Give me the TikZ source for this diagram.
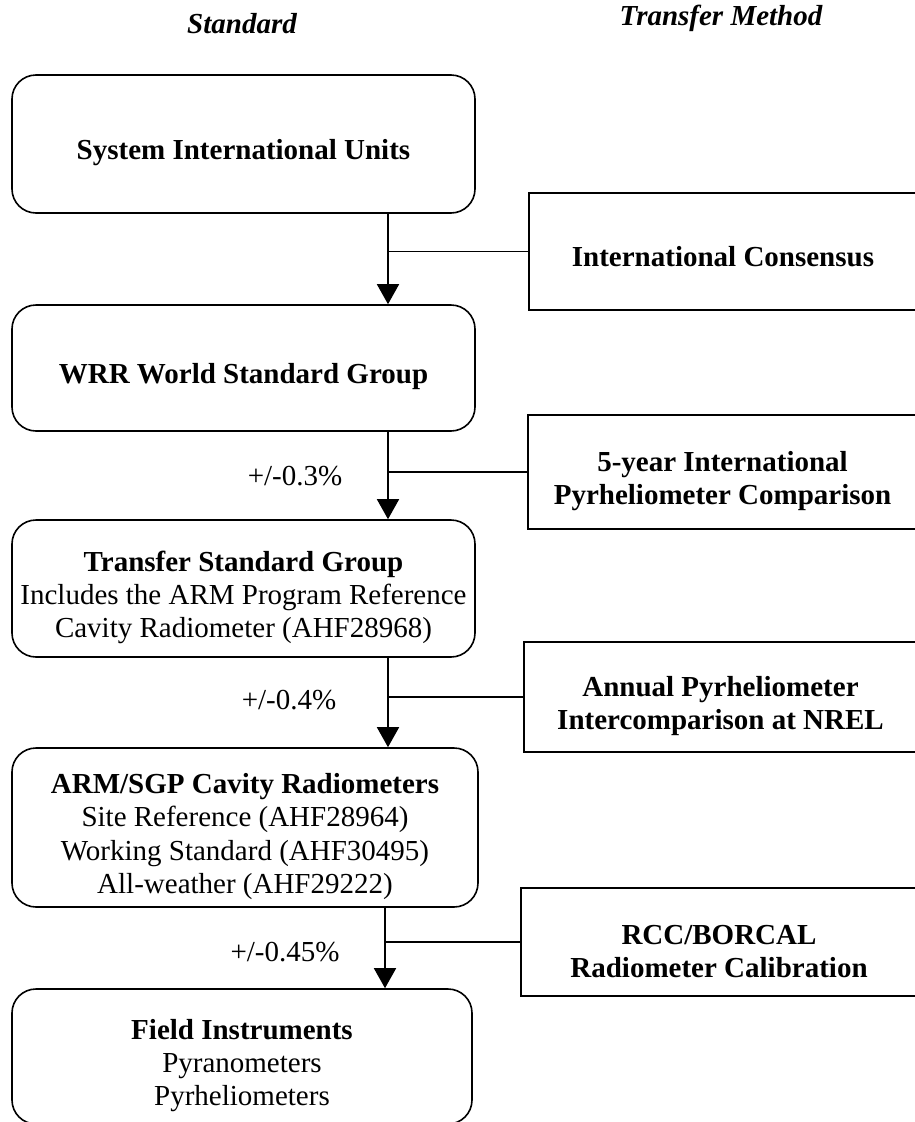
\documentclass[tikz,border=0pt]{standalone}
\usepackage{fontspec}
\setmainfont{Liberation Serif}
\usetikzlibrary{arrows.meta}
\newcommand\droptxt{\rule{0pt}{38pt}}
\begin{document}
\begin{tikzpicture}[x=1pt,y=-1pt,
  stdbox/.style={draw, line width=1.6pt, rounded corners=24pt, inner sep=0pt, align=center,
    font=\fontsize{29}{33.3}\selectfont},
  methbox/.style={draw, line width=1.6pt, inner sep=0pt, align=center,
    font=\fontsize{29}{33}\selectfont\bfseries},
  hdr/.style={inner sep=0pt, font=\fontsize{29}{33}\selectfont\bfseries\itshape},
  lbl/.style={inner sep=0pt, font=\fontsize{29}{33}\selectfont},
  arr/.style={line width=1.6pt, -{Triangle[width=22pt,length=20pt]}},
  link/.style={line width=1.4pt}
]
\useasboundingbox (0,0) rectangle (915,1122);
\clip (0,0) rectangle (915,1122);

% headers
\node[hdr] (h1) at (242,24) {Standard};
\node[hdr] (h2) at (721,18) {Transfer Method};

% standard chain
\node[stdbox, minimum width=463pt, minimum height=138pt] (b1) at (243.5,144)
  {\droptxt\textbf{System International Units}};
\node[stdbox, minimum width=463pt, minimum height=126pt] (b2) at (243.5,368)
  {\droptxt\textbf{WRR World Standard Group}};
\node[stdbox, minimum width=463pt, minimum height=137pt] (b3) at (243.5,588.5)
  {\droptxt\textbf{Transfer Standard Group}\\Includes the ARM Program Reference\\Cavity Radiometer (AHF28968)};
\node[stdbox, minimum width=466pt, minimum height=159pt] (b4) at (245,827.5)
  {\droptxt\textbf{ARM/SGP Cavity Radiometers}\\Site Reference (AHF28964)\\Working Standard (AHF30495)\\All-weather (AHF29222)};
\node[stdbox, minimum width=460pt, minimum height=135pt] (b5) at (242,1056.5)
  {\droptxt\textbf{Field Instruments}\\Pyranometers\\Pyrheliometers};

% transfer method boxes
\node[methbox, minimum width=388pt, minimum height=117pt] (r1) at (723,251.5)
  {\rule{0pt}{30pt}International Consensus};
\node[methbox, minimum width=389pt, minimum height=114pt] (r2) at (722.5,472)
  {\droptxt 5-year International\\Pyrheliometer Comparison};
\node[methbox, minimum width=393pt, minimum height=110pt] (r3) at (720.5,697)
  {\droptxt Annual Pyrheliometer\\Intercomparison at NREL};
\node[methbox, minimum width=396pt, minimum height=108pt] (r4) at (719,942)
  {\droptxt RCC/BORCAL\\Radiometer Calibration};

% arrow columns
\coordinate (ax) at (388,0);
\coordinate (bx) at (385,0);

\draw[arr] (b1.south -| ax) -- (b2.north -| ax);
\draw[arr] (b2.south -| ax) -- (b3.north -| ax);
\draw[arr] (b3.south -| ax) -- (b4.north -| ax);
\draw[arr] (b4.south -| bx) -- (b5.north -| bx);

\draw[link] (r1.west -| ax) -- (r1.west);
\draw[link] (r2.west -| ax) -- (r2.west);
\draw[link] (r3.west -| ax) -- (r3.west);
\draw[link] (r4.west -| bx) -- (r4.west);

% accuracy labels
\node[lbl] (l1) at (295,476) {+/-0.3\%};
\node[lbl] (l2) at (289,700) {+/-0.4\%};
\node[lbl] (l3) at (285,952) {+/-0.45\%};
\end{tikzpicture}
\end{document}
